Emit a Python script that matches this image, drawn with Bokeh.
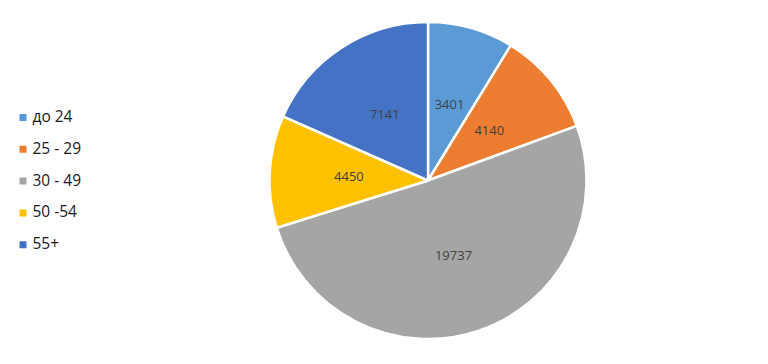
import math
from bokeh.plotting import figure
from bokeh.models import ColumnDataSource, Range1d
from bokeh.core.properties import value
from bokeh.embed import file_html
from bokeh.resources import INLINE

# ---- data ----
categories = ["до 24", "25 - 29", "30 - 49", "50 -54", "55+"]
values = [3401, 4140, 19737, 4450, 7141]
colors = ["#5B9BD5", "#ED7D31", "#A5A5A5", "#FFC000", "#4472C4"]

W, H = 768, 364
CX, CY, R = 427.5, H - 180.0, 158.5

total = float(sum(values))
starts, ends, lx, ly = [], [], [], []
cum = 0.0
for v in values:
    a0 = math.pi / 2 - 2 * math.pi * cum / total
    cum += v
    a1 = math.pi / 2 - 2 * math.pi * cum / total
    starts.append(a0)
    ends.append(a1)
    mid = (a0 + a1) / 2
    lx.append(CX + 0.5 * R * math.cos(mid))
    ly.append(CY + 0.5 * R * math.sin(mid))

src = ColumnDataSource(dict(start=starts, end=ends, color=colors,
                            lx=lx, ly=ly, lab=[str(v) for v in values]))

p = figure(width=W, height=H, output_backend="svg", toolbar_location=None,
           x_range=Range1d(0, W), y_range=Range1d(0, H),
           min_border=0, min_border_left=0, min_border_right=0,
           min_border_top=0, min_border_bottom=0)
p.axis.visible = False
p.grid.visible = False
p.outline_line_color = None
p.background_fill_color = "white"
p.border_fill_color = "white"

p.wedge(x=CX, y=CY, radius=R, start_angle="start", end_angle="end",
        direction="clock", fill_color="color", line_color="white",
        line_width=2.5, source=src)

p.text(x="lx", y="ly", text="lab", source=src, text_align="center",
       text_baseline="middle", text_font=value("Open Sans"),
       text_font_size="13px", text_color="#404040")

# legend
leg_y = [H - (117 + i * 31.8) for i in range(len(categories))]
leg = ColumnDataSource(dict(y=leg_y, ty=[y + 1.5 for y in leg_y],
                            color=colors, lab=categories))
p.scatter(x=22.5, y="y", marker="square", size=7, fill_color="color",
          line_color=None, source=leg)
p.text(x=32, y="ty", text="lab", source=leg,
       text_align="left", text_baseline="middle", text_font=value("Open Sans"),
       text_font_size="15.5px", text_color="#1a1a1a")

open("out.html", "w").write(file_html(p, INLINE))
